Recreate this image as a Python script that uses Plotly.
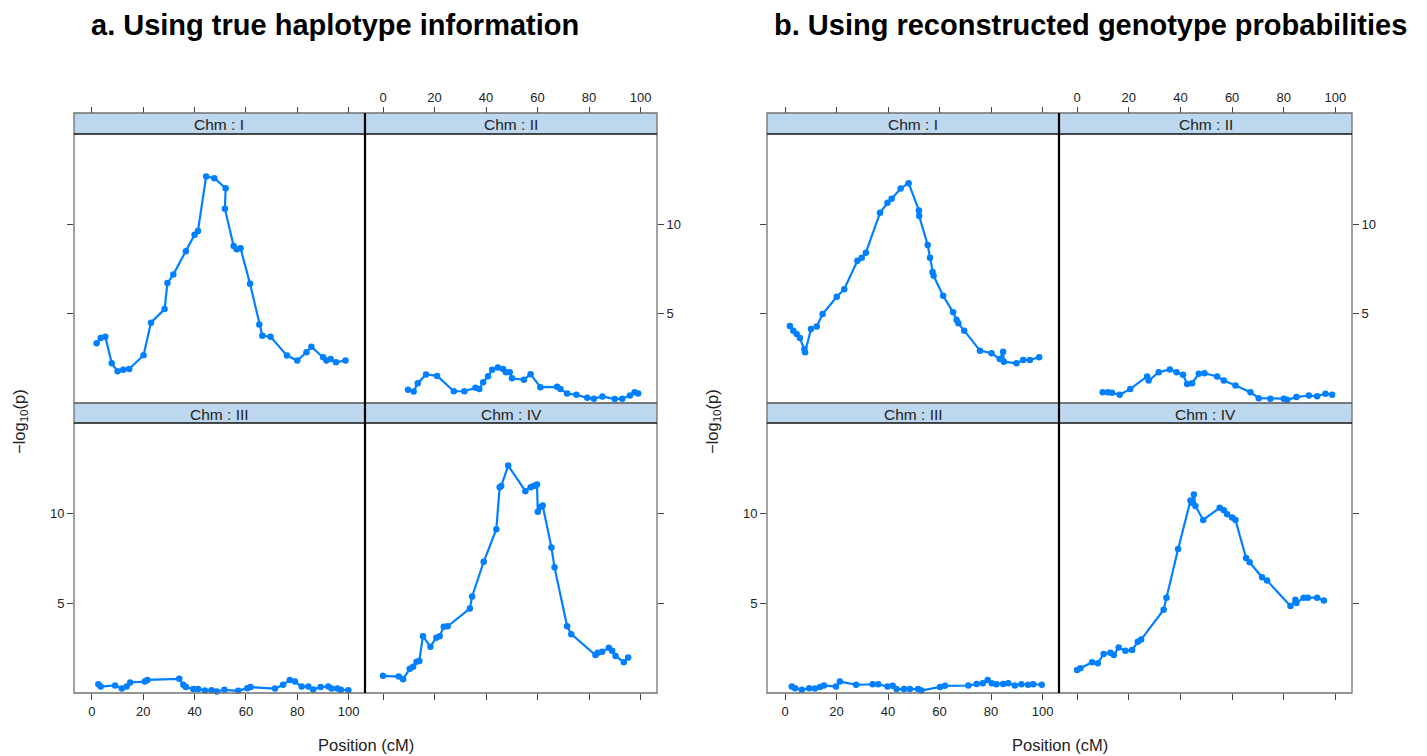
import plotly.graph_objects as go

# ---------------- data (Position cM, -log10 p) ----------------
# Panel a: true haplotype information
a_I_x = [1.8, 3.4, 5.2, 7.7, 10.0, 12.2, 14.5, 20.1, 23.0, 28.3, 29.4, 31.7, 36.6, 40.0, 41.3, 44.5, 47.7, 52.1, 51.8, 55.2, 56.4, 57.9, 61.6, 65.2, 66.4, 69.6, 76.0, 80.0, 83.6, 85.5, 90.1, 91.4, 93.0, 95.1, 98.8]
a_I_y = [3.32, 3.62, 3.69, 2.20, 1.75, 1.83, 1.88, 2.65, 4.48, 5.24, 6.70, 7.18, 8.49, 9.42, 9.63, 12.69, 12.59, 12.03, 10.88, 8.79, 8.60, 8.66, 6.66, 4.38, 3.75, 3.69, 2.63, 2.35, 2.82, 3.13, 2.54, 2.35, 2.44, 2.26, 2.35]

a_II_x = [9.7, 11.9, 13.5, 16.7, 21.0, 27.5, 31.6, 35.9, 37.4, 38.9, 40.8, 42.4, 44.6, 46.6, 47.7, 49.2, 50.1, 54.7, 57.3, 61.1, 67.6, 68.9, 71.5, 75.1, 79.3, 81.9, 85.2, 90.0, 92.9, 95.9, 97.7, 99.1]
a_II_y = [0.71, 0.62, 1.08, 1.57, 1.49, 0.63, 0.63, 0.82, 0.76, 1.14, 1.47, 1.83, 1.96, 1.88, 1.70, 1.70, 1.36, 1.27, 1.59, 0.86, 0.88, 0.76, 0.50, 0.43, 0.26, 0.21, 0.34, 0.19, 0.21, 0.39, 0.58, 0.50]

a_III_x = [2.5, 3.4, 9.0, 11.6, 13.5, 14.9, 20.6, 21.6, 34.0, 35.6, 36.6, 39.5, 41.4, 44.0, 46.6, 48.6, 51.6, 57.0, 60.5, 61.8, 71.3, 74.5, 77.1, 79.1, 81.7, 84.3, 86.2, 89.1, 92.1, 93.4, 95.6, 97.0, 99.9]
a_III_y = [0.46, 0.33, 0.39, 0.22, 0.33, 0.56, 0.61, 0.70, 0.76, 0.43, 0.30, 0.19, 0.19, 0.11, 0.13, 0.06, 0.15, 0.09, 0.24, 0.30, 0.22, 0.43, 0.70, 0.61, 0.33, 0.33, 0.17, 0.30, 0.33, 0.22, 0.22, 0.15, 0.13]

a_IV_x = [0.0, 6.1, 7.8, 10.4, 11.7, 13.0, 14.1, 15.5, 18.4, 20.7, 22.0, 23.6, 25.1, 33.7, 34.6, 39.1, 44.0, 45.3, 45.9, 48.6, 55.3, 57.3, 58.5, 59.8, 60.1, 61.1, 62.0, 65.4, 66.6, 71.5, 73.1, 82.5, 83.4, 85.1, 87.7, 89.0, 90.3, 93.5, 95.2]
a_IV_y = [0.93, 0.89, 0.74, 1.33, 1.44, 1.72, 1.76, 3.15, 2.56, 3.06, 3.15, 3.67, 3.70, 4.69, 5.37, 7.31, 9.13, 11.48, 11.54, 12.69, 11.26, 11.48, 11.54, 11.63, 10.11, 10.37, 10.46, 8.11, 7.00, 3.70, 3.26, 2.09, 2.22, 2.28, 2.50, 2.33, 2.04, 1.69, 1.96]

# Panel b: reconstructed genotype probabilities
b_I_x = [1.9, 3.2, 4.5, 5.8, 7.5, 7.8, 10.1, 12.3, 14.6, 20.1, 23.0, 28.1, 29.8, 31.4, 36.9, 39.8, 41.4, 44.9, 48.0, 52.0, 52.1, 55.4, 56.3, 57.3, 57.7, 61.4, 65.3, 66.6, 67.3, 69.6, 75.7, 80.2, 83.4, 84.7, 85.0, 89.9, 92.5, 95.1, 98.7]
b_I_y = [4.29, 4.03, 3.84, 3.62, 3.00, 2.82, 4.12, 4.27, 4.96, 5.93, 6.36, 7.95, 8.13, 8.41, 10.65, 11.21, 11.44, 12.01, 12.31, 10.78, 10.47, 8.84, 8.13, 7.33, 7.11, 5.99, 5.06, 4.65, 4.44, 4.03, 2.91, 2.76, 2.44, 2.85, 2.29, 2.20, 2.39, 2.39, 2.54]

b_II_x = [9.9, 11.9, 13.5, 16.5, 20.6, 27.1, 27.7, 31.6, 35.9, 38.5, 41.0, 42.6, 44.5, 47.1, 49.3, 54.2, 56.8, 61.3, 67.1, 70.3, 74.8, 80.0, 81.3, 84.9, 89.7, 92.9, 96.1, 98.7]
b_II_y = [0.58, 0.58, 0.54, 0.43, 0.76, 1.46, 1.23, 1.70, 1.85, 1.70, 1.55, 1.04, 1.08, 1.61, 1.64, 1.46, 1.23, 0.95, 0.58, 0.24, 0.21, 0.21, 0.15, 0.30, 0.39, 0.35, 0.49, 0.43]

b_III_x = [2.6, 3.9, 6.5, 9.4, 11.6, 13.6, 15.1, 19.8, 21.3, 27.6, 34.0, 36.2, 39.8, 41.8, 43.3, 46.2, 48.5, 51.7, 53.0, 60.2, 62.1, 71.2, 74.4, 76.8, 78.7, 80.3, 82.1, 84.7, 86.7, 89.3, 91.8, 94.4, 96.4, 99.7]
b_III_y = [0.33, 0.24, 0.15, 0.24, 0.22, 0.30, 0.39, 0.33, 0.61, 0.43, 0.46, 0.46, 0.33, 0.37, 0.19, 0.19, 0.19, 0.19, 0.11, 0.30, 0.37, 0.39, 0.48, 0.52, 0.70, 0.52, 0.46, 0.48, 0.52, 0.39, 0.46, 0.43, 0.46, 0.43]

b_IV_x = [0.0, 1.3, 5.8, 8.0, 10.3, 12.9, 14.2, 16.1, 18.7, 21.3, 23.5, 24.8, 33.5, 34.6, 39.1, 43.9, 44.5, 45.2, 45.8, 48.8, 55.2, 56.8, 58.1, 60.0, 61.3, 65.4, 66.8, 71.6, 73.5, 82.6, 84.5, 84.9, 87.7, 89.3, 92.9, 95.5]
b_IV_y = [1.26, 1.35, 1.69, 1.63, 2.15, 2.22, 2.09, 2.52, 2.33, 2.37, 2.83, 2.96, 4.63, 5.30, 8.02, 10.74, 10.61, 11.07, 10.43, 9.65, 10.33, 10.19, 9.96, 9.78, 9.65, 7.52, 7.28, 6.44, 6.26, 4.83, 5.19, 5.00, 5.30, 5.30, 5.30, 5.15]

strip_labels = ["Chm : I", "Chm : II", "Chm : III", "Chm : IV"]
x_ticks = [0, 20, 40, 60, 80, 100]
y_ticks = [5, 10]
titles = ["a. Using true haplotype information", "b. Using reconstructed genotype probabilities"]

# ---------------- layout helpers ----------------
W, H = 1427, 756
def fx(px):
    return px / W
def fy(py):
    return 1 - py / H

LINE_COL = "#0080FF"
FONT = "Liberation Sans, Arial, sans-serif"
XR = [-7.0, 106.4]
YR = [-0.03, 15.07]

groups = [
    dict(cols=[(74, 365), (365, 657)], data=[(a_I_x, a_I_y), (a_II_x, a_II_y), (a_III_x, a_III_y), (a_IV_x, a_IV_y)],
         title=titles[0], title_x=335, ylab_x=20),
    dict(cols=[(767, 1059), (1059, 1352)], data=[(b_I_x, b_I_y), (b_II_x, b_II_y), (b_III_x, b_III_y), (b_IV_x, b_IV_y)],
         title=titles[1], title_x=1090, ylab_x=713),
]
STRIP_TOP = [(113, 134), (403, 423)]
PLOT_Y = [(134, 403), (423, 693)]

fig = go.Figure()
layout = dict(width=W, height=H, margin=dict(l=0, r=0, t=0, b=0), paper_bgcolor="white",
              plot_bgcolor="rgba(0,0,0,0)", showlegend=False)
shapes, annots = [], []
tickfont = dict(family=FONT, size=13, color="#222222")

k = 0
for g in groups:
    for p in range(4):
        row, col = divmod(p, 2)
        k += 1
        xs, ys = g["data"][p]
        xname = "x" if k == 1 else f"x{k}"
        yname = "y" if k == 1 else f"y{k}"
        fig.add_trace(go.Scatter(x=xs, y=ys, mode="lines+markers", xaxis=xname, yaxis=yname,
                                 line=dict(color=LINE_COL, width=2.2),
                                 marker=dict(color=LINE_COL, size=6.5, symbol="circle"),
                                 cliponaxis=False, hoverinfo="skip"))
        c0, c1 = g["cols"][col]
        r0, r1 = PLOT_Y[row]
        xa = dict(domain=[fx(c0), fx(c1)], range=XR, tickvals=x_ticks, ticks="outside", ticklen=6,
                  tickwidth=1, tickcolor="#444444", showgrid=False, zeroline=False, showline=False,
                  tickfont=tickfont, fixedrange=True)
        ya = dict(domain=[fy(r1), fy(r0)], range=YR, tickvals=y_ticks, ticks="outside", ticklen=6,
                  tickwidth=1, tickcolor="#444444", showgrid=False, zeroline=False, showline=False,
                  tickfont=tickfont, fixedrange=True)
        if row == 0:
            xa.update(anchor="free", position=fy(STRIP_TOP[0][0]), side="top",
                      showticklabels=(col == 1))
        else:
            xa.update(anchor=yname, side="bottom", showticklabels=(col == 0))
        if col == 0:
            ya.update(anchor=xname, side="left", showticklabels=(row == 1))
        else:
            ya.update(anchor=xname, side="right", showticklabels=(row == 0))
        layout["xaxis" if k == 1 else f"xaxis{k}"] = xa
        layout["yaxis" if k == 1 else f"yaxis{k}"] = ya

        # strip
        s0, s1 = STRIP_TOP[row]
        shapes.append(dict(type="rect", xref="paper", yref="paper", x0=fx(c0), x1=fx(c1),
                           y0=fy(s1), y1=fy(s0), fillcolor="#BDD7EE", line=dict(width=0), layer="below"))
        annots.append(dict(text=strip_labels[p], xref="paper", yref="paper", x=fx((c0 + c1) / 2),
                           y=fy((s0 + s1) / 2 + 1), showarrow=False, xanchor="center", yanchor="middle",
                           font=dict(family=FONT, size=15.5, color="#222222")))

    L = g["cols"][0][0]
    M = g["cols"][0][1]
    R = g["cols"][1][1]
    # outer grey frame
    shapes.append(dict(type="rect", xref="paper", yref="paper", x0=fx(L), x1=fx(R), y0=fy(693), y1=fy(113),
                       line=dict(color="#707070", width=1.3), layer="above"))
    # strip borders
    for yy, colr in [(134, "#111111"), (403, "#555555"), (423, "#111111")]:
        shapes.append(dict(type="line", xref="paper", yref="paper", x0=fx(L), x1=fx(R), y0=fy(yy), y1=fy(yy),
                           line=dict(color=colr, width=1.3), layer="above"))
    # central divider
    shapes.append(dict(type="line", xref="paper", yref="paper", x0=fx(M), x1=fx(M), y0=fy(693), y1=fy(113),
                       line=dict(color="#000000", width=2.2), layer="above"))
    # titles and axis labels
    annots.append(dict(text="<b>" + g["title"] + "</b>", xref="paper", yref="paper", x=fx(g["title_x"]), y=fy(25),
                       showarrow=False, xanchor="center", yanchor="middle",
                       font=dict(family=FONT, size=29, color="#000000")))
    annots.append(dict(text="Position (cM)", xref="paper", yref="paper", x=fx((L + R) / 2), y=fy(745),
                       showarrow=False, xanchor="center", yanchor="middle",
                       font=dict(family=FONT, size=16.5, color="#222222")))
    annots.append(dict(text="\u2212log<sub>10</sub>(p)", xref="paper", yref="paper", x=fx(g["ylab_x"]), y=fy(422),
                       showarrow=False, xanchor="center", yanchor="middle", textangle=-90,
                       font=dict(family=FONT, size=16.5, color="#222222")))

layout["shapes"] = shapes
layout["annotations"] = annots
fig.update_layout(**layout)
fig.write_html("out.html")
